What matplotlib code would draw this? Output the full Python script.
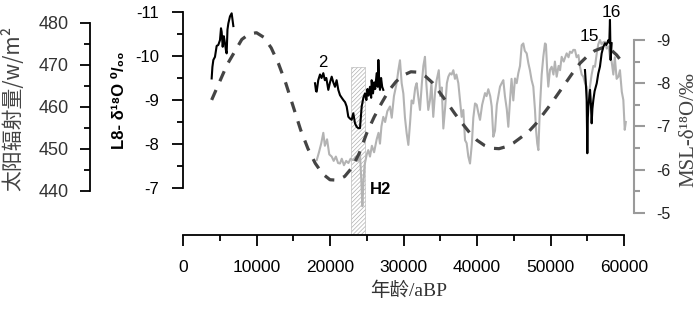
import matplotlib
matplotlib.use("Agg")
import matplotlib.pyplot as plt
from matplotlib.ticker import MultipleLocator

# ---------------- data ----------------
ins_age = [3900, 5000, 6000, 7000, 8000, 9000, 10000, 11000, 12000, 13000, 14000, 15000,
           16000, 17000, 18000, 19000, 20000, 21000, 22000, 23000, 24000, 25000, 26000,
           27000, 28000, 29000, 30000, 31000, 32000, 33000, 34000, 35000, 36000, 37000,
           38000, 39000, 40000, 41000, 42000, 43000, 44000, 45000, 46000, 47000, 48000,
           49000, 50000, 51000, 52000, 53000, 54000, 55000, 56000, 57000, 58000, 59000, 59700]
ins_val = [461.6, 466.0, 470.0, 473.0, 476.0, 477.3, 477.6, 476.5, 474.0, 470.2, 465.5, 460.0,
           454.5, 450.0, 446.5, 444.0, 442.6, 442.5, 443.4, 445.5, 449.0, 453.7, 457.5,
           460.8, 463.8, 466.0, 467.5, 468.3, 468.2, 467.2, 465.6, 463.2, 460.8, 458.3,
           456.0, 453.8, 452.0, 450.8, 450.1, 450.0, 450.5, 451.4, 452.7, 454.0, 455.9,
           458.2, 460.5, 463.0, 465.5, 468.0, 470.3, 472.0, 473.3, 474.0, 473.9, 472.3, 470.7]

msl_age = [18200, 18500, 18800, 19090, 19300, 19600, 19900, 20230, 20500, 20800, 21100, 21360,
           21600, 21900, 22200, 22500, 22800, 23170, 23500, 23800, 24080, 24250, 24400, 24550,
           24700, 25000, 25210, 25440, 25700, 26000, 26350, 26600, 26800, 27000, 27250, 27500,
           27800, 28160, 28400, 28700, 29070, 29300, 29520, 29750, 29980, 30200, 30430, 30660,
           30900, 31100, 31330, 31600, 31790, 32000, 32240, 32500, 32700, 32920, 33100, 33370,
           33600, 33800, 34050, 34300, 34510, 34800, 35000, 35200, 35420, 35650, 35900, 36100,
           36330, 36550, 36780, 37000, 37200, 37460, 37690, 37910, 38140, 38370, 38590, 38820,
           39050, 39300, 39500, 39730, 39960, 40200, 40410, 40700, 41090, 41300, 41540, 41800,
           42000, 42220, 42450, 42700, 43130, 43360, 43580, 43800, 44050, 44260, 44490, 44700,
           44940, 45170, 45400, 45620, 45850, 46080, 46300, 46500, 46760, 46990, 47200, 47430,
           47660, 47890, 48030, 48200, 48350, 48550, 48800, 49020, 49250, 49380, 49550, 49700,
           49930, 50160, 50400, 50600, 50840, 51100, 51300, 51520, 51800, 52000, 52200, 52450,
           52650, 52900, 53100, 53330, 53550, 53800, 54010, 54250, 54470, 54700, 54920, 55150,
           55350, 55600, 55830, 56050, 56300, 56500, 56730, 56950, 57200, 57410, 57650, 57900,
           58100, 58320, 58550, 58750, 59000, 59230, 59450, 59700, 59910, 60100, 60250]
msl_val = [-6.22, -6.40, -6.60, -6.85, -6.55, -6.70, -6.35, -6.30, -6.20, -6.30, -6.15, -6.14,
           -6.25, -6.10, -6.20, -6.15, -6.25, -6.22, -6.30, -6.20, -6.35, -5.80, -5.15, -5.70,
           -6.10, -6.35, -6.45, -6.30, -6.55, -6.40, -6.70, -6.85, -6.60, -7.00, -7.22, -7.10,
           -7.35, -7.46, -7.20, -7.70, -8.00, -8.30, -8.53, -8.00, -7.76, -7.20, -6.84, -6.57,
           -7.10, -7.60, -7.53, -7.90, -8.00, -7.70, -7.38, -8.00, -8.40, -8.61, -8.00, -7.38,
           -7.60, -8.00, -7.22, -7.80, -8.07, -8.30, -7.70, -7.90, -6.95, -7.40, -8.00, -8.15,
           -8.23, -8.20, -8.30, -8.10, -8.20, -8.00, -7.61, -7.22, -7.38, -6.68, -6.61, -6.30,
           -6.14, -6.60, -7.20, -7.53, -7.50, -7.30, -7.15, -7.50, -7.77, -7.70, -7.86, -7.70,
           -7.46, -6.76, -6.90, -7.50, -7.92, -8.00, -8.07, -7.70, -7.40, -6.99, -7.60, -8.10,
           -7.60, -8.11, -8.00, -8.23, -8.40, -8.88, -8.92, -8.75, -8.69, -8.46, -8.30, -8.07,
           -7.92, -7.38, -6.92, -6.60, -6.45, -7.40, -8.20, -8.61, -8.92, -8.90, -8.30, -7.92,
           -8.31, -8.38, -8.20, -8.50, -8.15, -8.40, -8.30, -8.61, -8.50, -8.60, -8.69, -8.60,
           -8.73, -8.70, -8.77, -8.77, -8.60, -8.65, -8.38, -8.20, -8.15, -8.00, -7.92, -7.50,
           -7.90, -8.20, -8.40, -8.38, -8.70, -8.90, -9.00, -8.90, -8.95, -8.96, -8.80, -8.85,
           -8.60, -8.50, -8.20, -8.60, -8.10, -8.15, -8.30, -7.80, -7.61, -6.92, -7.10]

l8a_age = [3900, 4000, 4130, 4350, 4580, 4800, 5030, 5170, 5260, 5400, 5550, 5700, 5850,
           5940, 6050, 6170, 6390, 6620, 6850]
l8a_val = [-9.49, -9.75, -9.91, -9.98, -10.23, -10.25, -10.36, -10.63, -10.55, -10.21, -10.45,
           -10.30, -10.12, -10.06, -10.60, -10.74, -10.90, -10.97, -10.68]

l8b_age = [17960, 18100, 18190, 18400, 18640, 18850, 19090, 19300, 19500, 19770, 20000, 20230,
           20450, 20680, 20900, 21130, 21360, 21600, 21810, 22050, 22270, 22490, 22700, 22950,
           23170, 23400, 23630, 23850, 24080, 24310, 24540, 24760, 24950, 25100, 25250, 25440,
           25600, 25670, 25850, 26000, 26150, 26350, 26500, 26580, 26700, 26800, 26950, 27100, 27250]
l8b_val = [-9.38, -9.20, -9.19, -9.45, -9.58, -9.50, -9.61, -9.45, -9.50, -9.23, -9.40, -9.53,
           -9.40, -9.30, -9.45, -9.23, -9.11, -9.05, -9.00, -8.95, -8.85, -8.62, -8.58, -8.55,
           -8.70, -8.47, -8.39, -8.36, -8.36, -8.85, -9.05, -9.15, -9.00, -9.25, -9.10, -9.30,
           -9.05, -9.45, -9.15, -9.40, -9.25, -9.61, -9.30, -9.91, -9.40, -9.23, -9.50, -9.30, -9.23]

l8c_age = [54690, 54800, 54920, 55010, 55080, 55150, 55300, 55380, 55500, 55600, 55700, 55830,
           56000, 56290, 56500, 56730, 56960, 57190, 57410, 57600, 57870, 58000, 58090, 58180, 58320]
l8c_val = [-9.68, -9.40, -9.00, -7.79, -8.60, -8.85, -9.10, -9.23, -8.90, -8.47, -8.80, -9.00,
           -9.20, -9.38, -9.60, -9.76, -10.06, -10.21, -10.29, -10.25, -10.36, -10.30, -10.82,
           -9.91, -10.29]

h2_span = (22800, 24800)
x_ticks = [0, 10000, 20000, 30000, 40000, 50000, 60000]
ins_ticks = [440, 450, 460, 470, 480]
l8_ticks = [-11, -10, -9, -8, -7]
msl_ticks = [-9, -8, -7, -6, -5]

# ---------------- figure ----------------
plt.rcParams["hatch.linewidth"] = 0.5
W, H = 700, 313
fig = plt.figure(figsize=(W / 100, H / 100), dpi=100)
fig.patch.set_facecolor("white")

x0, x1 = 183, 624
ytop, ybot = 5, 235
ax = fig.add_axes([x0 / W, (H - ybot) / H, (x1 - x0) / W, (ybot - ytop) / H])
ax_msl = ax.twinx()
ax_ins = ax.twinx()

ax.set_zorder(3)
ax_ins.set_zorder(2)
ax_msl.set_zorder(1)
for a in (ax, ax_ins, ax_msl):
    a.patch.set_visible(False)

ax.set_xlim(0, 60000)
ax.set_ylim(-5.932, -11.159)
ax_ins.set_ylim(429.45, 484.2)
ax_msl.set_ylim(-4.484, -9.81)

tickfont = "Liberation Sans"

# main axis: bottom x and L8 left
for s in ("top", "right"):
    ax.spines[s].set_visible(False)
ax.spines["bottom"].set_bounds(0, 60000)
ax.spines["left"].set_bounds(-11, -7)
for s in ("bottom", "left"):
    ax.spines[s].set_linewidth(1.3)
ax.set_xticks(x_ticks)
ax.xaxis.set_minor_locator(MultipleLocator(5000))
ax.set_yticks(l8_ticks)
ax.set_yticks([-10.5, -9.5, -8.5, -7.5], minor=True)
ax.tick_params(axis="x", which="major", direction="out", length=8, width=1.3, pad=10,
               labelsize=12.5)
ax.tick_params(axis="x", which="minor", direction="out", length=4.5, width=1.3)
ax.tick_params(axis="y", which="major", direction="out", length=8, width=1.3, pad=9,
               labelsize=12)
ax.tick_params(axis="y", which="minor", direction="out", length=4.5, width=1.3)
ax.set_xticklabels([str(v) for v in x_ticks], fontfamily=tickfont)
ax.set_yticklabels([str(v) for v in l8_ticks], fontfamily=tickfont)

# insolation axis (far left)
for s in ("top", "right", "bottom"):
    ax_ins.spines[s].set_visible(False)
ax_ins.spines["left"].set_visible(True)
ax_ins.spines["left"].set_position(("axes", (90 - x0) / (x1 - x0)))
ax_ins.spines["left"].set_bounds(440, 480)
ax_ins.spines["left"].set_linewidth(1.3)
ax_ins.yaxis.set_ticks_position("left")
ax_ins.yaxis.set_label_position("left")
ax_ins.set_yticks(ins_ticks)
ax_ins.set_yticks([445, 455, 465, 475], minor=True)
ax_ins.tick_params(axis="y", which="major", direction="out", length=7.5, width=1.3, pad=8,
                   labelsize=13, labelcolor="#333333")
ax_ins.tick_params(axis="y", which="minor", direction="out", length=4, width=1.3)
ax_ins.set_yticklabels([str(v) for v in ins_ticks], fontfamily=tickfont)

# MSL axis (right, grey)
grey_axis = "#9a9a9a"
for s in ("top", "left", "bottom"):
    ax_msl.spines[s].set_visible(False)
ax_msl.spines["right"].set_position(("axes", (634 - x0) / (x1 - x0)))
ax_msl.spines["right"].set_bounds(-9, -5)
ax_msl.spines["right"].set_color(grey_axis)
ax_msl.spines["right"].set_linewidth(1.5)
ax_msl.set_yticks(msl_ticks)
ax_msl.set_yticks([-8.5, -7.5, -6.5, -5.5], minor=True)
ax_msl.tick_params(axis="y", which="major", direction="out", length=8, width=1.5, pad=8,
                   labelsize=11.5, color=grey_axis, labelcolor="#222222")
ax_msl.tick_params(axis="y", which="minor", direction="out", length=4.5, width=1.5,
                   color=grey_axis)
ax_msl.set_yticklabels([str(v) for v in msl_ticks], fontfamily=tickfont)

# ---------------- marks ----------------
ax_msl.axvspan(h2_span[0], h2_span[1], ymin=0, ymax=(ybot - 66.7) / (ybot - ytop),
               facecolor="white", edgecolor="#b0b0b0", hatch="////////", linewidth=0.4,
               zorder=1)
ax_msl.plot(msl_age, msl_val, color="#b3b3b3", lw=1.5, zorder=2, clip_on=False)
ax_ins.plot(ins_age, ins_val, color="#444444", lw=2.3, linestyle=(0, (3.4, 3.0)),
            zorder=3)
for xs, ys in ((l8a_age, l8a_val), (l8b_age, l8b_val), (l8c_age, l8c_val)):
    ax.plot(xs, ys, color="black", lw=1.5, zorder=4)

# annotations
ax.text(19050, -9.85, "2", fontsize=12, fontfamily=tickfont, ha="center", va="center")
ax.text(55300, -10.45, "15", fontsize=12.5, fontfamily=tickfont, ha="center", va="center")
ax.text(58300, -10.98, "16", fontsize=12.5, fontfamily=tickfont, ha="center", va="center")
ax.text(26900, -6.97, "H2", fontsize=12, fontweight="bold", fontfamily=tickfont,
        ha="center", va="center")

# axis labels
cjk_serif = ["Liberation Serif", "Noto Sans CJK SC"]
fig.text(409 / W, 1 - 291 / H, "年龄/aBP", family=cjk_serif, fontsize=14,
         ha="center", va="center", color="#333333")
fig.text(13 / W, 1 - 108 / H, "太阳辐射量/w/m²", family=["Noto Sans CJK SC", "DejaVu Sans"],
         fontsize=15, rotation=90, ha="center", va="center", color="#444444")
fig.text(119 / W, 1 - 100 / H, "L8- δ¹⁸O ⁰/₀₀", family=["Liberation Sans", "DejaVu Sans"],
         fontsize=12, fontweight="bold", rotation=90, ha="center", va="center")
fig.text(689 / W, 1 - 130 / H, "MSL-δ¹⁸O/‰", family=["Liberation Serif", "DejaVu Serif"],
         fontsize=15, rotation=90, ha="center", va="center", color="#444444")

fig.savefig("out.png", dpi=100, facecolor="white")
